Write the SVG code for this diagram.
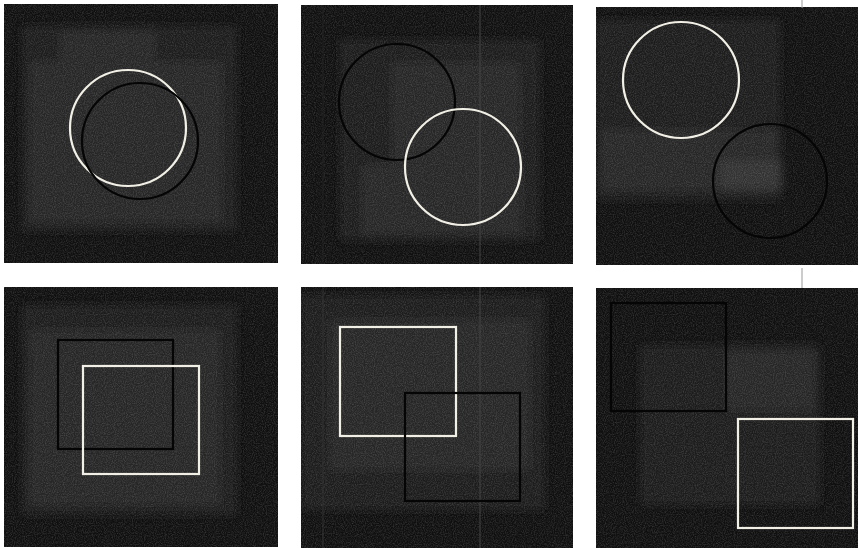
<svg xmlns="http://www.w3.org/2000/svg" width="858" height="548" viewBox="0 0 858 548">
<defs>
<style>
.bg{fill:#0f0f0f}
.m1{fill:#1b1b1b}
.m2{fill:#262626}
.m3{fill:#303030}
.w{fill:none;stroke:#f2f0e6;stroke-width:2.2}
.d{fill:none;stroke:#050505;stroke-width:2.2}
.n{fill:#fff}
</style>
<filter id="noise" x="0" y="0" width="100%" height="100%">
<feTurbulence type="fractalNoise" baseFrequency="0.9" numOctaves="2" seed="3" result="t"/>
<feColorMatrix in="t" type="matrix" values="0 0 0 0 1 0 0 0 0 1 0 0 0 0 1 0.3 0 0 0 -0.11" result="c"/>
<feComposite in="c" in2="SourceGraphic" operator="in"/>
</filter>
<filter id="blur"><feGaussianBlur stdDeviation="5"/></filter>
<clipPath id="c1"><rect x="4" y="4" width="274" height="259"/></clipPath>
<clipPath id="c2"><rect x="301" y="5" width="272" height="259"/></clipPath>
<clipPath id="c3"><rect x="596" y="7" width="262" height="258"/></clipPath>
<clipPath id="c4"><rect x="4" y="287" width="274" height="260"/></clipPath>
<clipPath id="c5"><rect x="301" y="287" width="272" height="261"/></clipPath>
<clipPath id="c6"><rect x="596" y="288" width="262" height="260"/></clipPath>
</defs>
<rect width="858" height="548" fill="#ffffff"/>

<g id="panel1">
<rect class="bg" x="4" y="4" width="274" height="259"/>
<g clip-path="url(#c1)"><g filter="url(#blur)">
<rect class="m1" x="22" y="26" width="215" height="205"/>
<rect class="m2" x="30" y="62" width="192" height="160"/>
<rect class="m2" x="60" y="30" width="95" height="40"/>
</g></g>
<rect class="n" x="4" y="4" width="274" height="259" filter="url(#noise)"/>
<circle class="w" cx="128" cy="128" r="58"/>
<circle class="d" cx="140" cy="141" r="58"/>
</g>

<g id="panel2">
<rect class="bg" x="301" y="5" width="272" height="259"/>
<g clip-path="url(#c2)"><g filter="url(#blur)">
<rect class="m1" x="340" y="40" width="200" height="200"/>
<rect class="m2" x="392" y="63" width="128" height="160"/>
<rect class="m2" x="362" y="165" width="160" height="70"/>
</g></g>
<rect class="n" x="301" y="5" width="272" height="259" filter="url(#noise)"/>
<line x1="480" y1="5" x2="480" y2="264" stroke="#444" stroke-width="1"/>
<line x1="323" y1="5" x2="323" y2="264" stroke="#222" stroke-width="1"/>
<circle class="d" cx="397" cy="102" r="58"/>
<circle class="w" cx="463" cy="167" r="58"/>
</g>

<g id="panel3">
<rect class="bg" x="596" y="7" width="262" height="258"/>
<g clip-path="url(#c3)"><g filter="url(#blur)">
<rect class="m1" x="596" y="20" width="184" height="180"/>
<rect class="m2" x="600" y="130" width="180" height="60"/>
<rect class="m3" x="720" y="160" width="62" height="30"/>
</g></g>
<rect class="n" x="596" y="7" width="262" height="258" filter="url(#noise)"/>
<circle class="w" cx="681" cy="80" r="58"/>
<circle class="d" cx="770" cy="181" r="57"/>
</g>

<g id="panel4">
<rect class="bg" x="4" y="287" width="274" height="260"/>
<g clip-path="url(#c4)"><g filter="url(#blur)">
<rect class="m1" x="22" y="305" width="215" height="210"/>
<rect class="m2" x="30" y="330" width="190" height="175"/>
</g></g>
<rect class="n" x="4" y="287" width="274" height="260" filter="url(#noise)"/>
<rect class="d" x="58" y="340" width="115" height="109"/>
<rect class="w" x="83" y="366" width="116" height="108"/>
</g>

<g id="panel5">
<rect class="bg" x="301" y="287" width="272" height="261"/>
<g clip-path="url(#c5)"><g filter="url(#blur)">
<rect class="m1" x="301" y="295" width="244" height="215"/>
<rect class="m2" x="330" y="320" width="200" height="150"/>
</g></g>
<rect class="n" x="301" y="287" width="272" height="261" filter="url(#noise)"/>
<line x1="480" y1="287" x2="480" y2="548" stroke="#444" stroke-width="1"/>
<line x1="323" y1="287" x2="323" y2="548" stroke="#333" stroke-width="1"/>
<rect class="w" x="340" y="327" width="116" height="109"/>
<rect class="d" x="405" y="393" width="115" height="108"/>
</g>

<g id="panel6">
<rect class="bg" x="596" y="288" width="262" height="260"/>
<g clip-path="url(#c6)"><g filter="url(#blur)">
<rect class="m1" x="640" y="345" width="180" height="160"/>
<rect class="m2" x="726" y="350" width="90" height="60"/>
</g></g>
<rect class="n" x="596" y="288" width="262" height="260" filter="url(#noise)"/>
<rect class="d" x="611" y="303" width="115" height="108"/>
<rect class="w" x="738" y="419" width="115" height="109"/>
</g>

<line x1="802" y1="0" x2="802" y2="8" stroke="#999" stroke-width="1"/>
<line x1="802" y1="268" x2="802" y2="288" stroke="#999" stroke-width="1"/>
</svg>
